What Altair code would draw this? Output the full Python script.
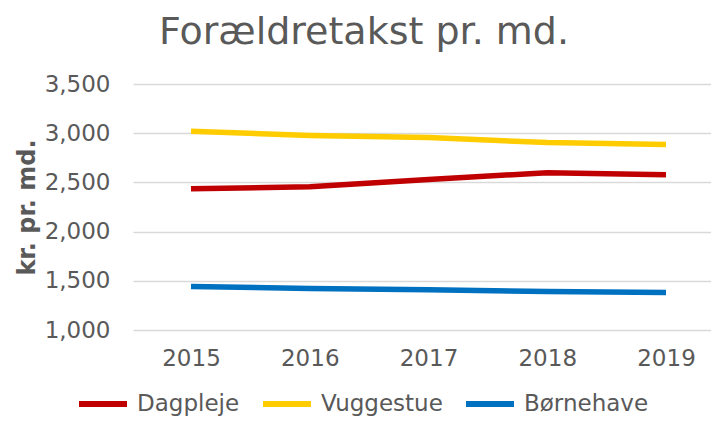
import altair as alt
import pandas as pd

years = [2015, 2016, 2017, 2018, 2019]
series_names = ["Dagpleje", "Vuggestue", "Børnehave"]
dagpleje = [2435, 2455, 2530, 2598, 2577]
vuggestue = [3020, 2976, 2956, 2905, 2884]
boernehave = [1442, 1423, 1410, 1390, 1380]
colors = ["#C00000", "#FFCC00", "#0070C0"]
y_ticks = [1000, 1500, 2000, 2500, 3000, 3500]

rows = []
for name, vals in zip(series_names, [dagpleje, vuggestue, boernehave]):
    for yr, v in zip(years, vals):
        rows.append({"year": yr, "value": v, "series": name})
df = pd.DataFrame(rows)

FONT = "DejaVu Sans"
GREY = "#595959"

chart = alt.Chart(df).mark_line(strokeWidth=5.5, strokeCap="butt", strokeJoin="round").encode(
    x=alt.X("year:Q",
            scale=alt.Scale(domain=[2014.5116, 2019.379], nice=False, zero=False),
            axis=alt.Axis(values=years, format="d", grid=False, ticks=False, domain=False,
                          labelFontSize=23, labelColor=GREY, labelFont=FONT, labelPadding=17,
                          title=None)),
    y=alt.Y("value:Q",
            scale=alt.Scale(domain=[1000, 3500], nice=False, zero=False),
            axis=alt.Axis(values=y_ticks, format=",.0f", grid=True, gridColor="#D9D9D9", gridWidth=1.5,
                          ticks=False, domain=False,
                          labelFontSize=23, labelColor=GREY, labelFont=FONT, labelPadding=23,
                          title="kr. pr. md.", titleFont=FONT, titleFontSize=24, titleFontWeight="bold",
                          titleColor=GREY, titleAngle=270, titleX=-106, titleY=123,
                          titleBaseline="middle", titleAlign="center")),
    color=alt.Color("series:N",
                    scale=alt.Scale(domain=series_names, range=colors),
                    sort=series_names,
                    legend=alt.Legend(title=None, orient="none", direction="horizontal",
                                      legendX=-57, legendY=293, padding=0,
                                      symbolType="stroke", symbolSize=2304, symbolStrokeWidth=6,
                                      labelFontSize=23, labelFont=FONT, labelColor=GREY,
                                      labelOffset=7, columnPadding=11, symbolOffset=0)),
).properties(
    width=578,
    height=246,
    title=alt.TitleParams(text="Forældretakst pr. md.", font=FONT, fontSize=38, fontWeight="normal",
                          color=GREY, anchor="middle", dx=-58, offset=21),
    autosize=alt.AutoSizeParams(type="none"),
    padding={"left": 125, "top": 76, "right": 0, "bottom": 86},
).configure_view(stroke=None)

chart.save("out.html", embed_options={"renderer": "svg", "actions": False})
